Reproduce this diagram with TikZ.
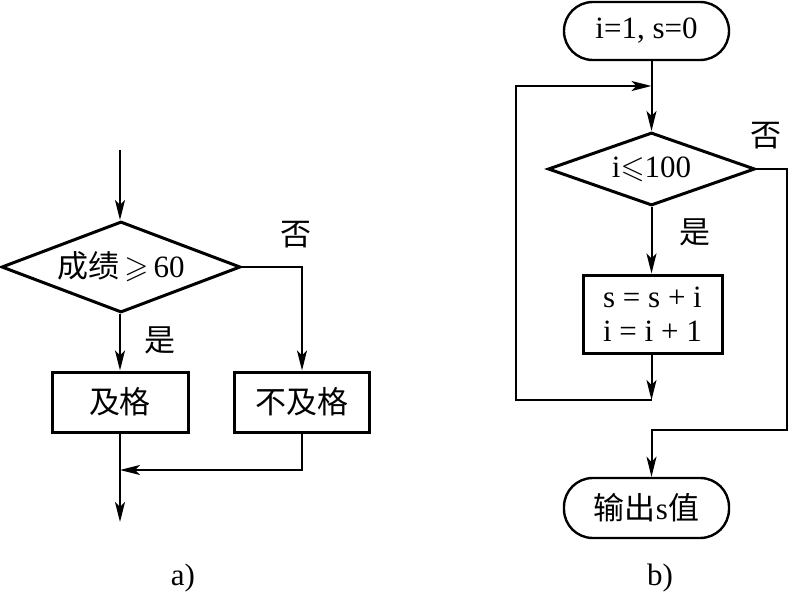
\documentclass[tikz,border=0pt]{standalone}
\usepackage{amssymb}
\usepackage{fontspec}
\setmainfont{Liberation Serif}
\newfontfamily\cjk{Noto Sans CJK SC}
\usetikzlibrary{arrows.meta,shapes.geometric}
\begin{document}
\begin{tikzpicture}[x=0.5pt,y=-0.5pt,
  every node/.style={font=\fontsize{15.5}{17}\selectfont},
  boxshape/.style={draw,line width=1.5pt,rectangle,inner sep=0pt},
  decision/.style={draw,line width=1.5pt,diamond,inner sep=0pt,shape aspect=2.6},
  terminal/.style={draw,line width=1.2pt,rectangle,rounded corners=14.4pt,inner sep=0pt,minimum width=82.5pt,minimum height=29pt},
  conn/.style={line width=1pt},
  arr/.style={conn,-{Stealth[length=10pt,width=5pt,inset=2.5pt]}},
  lbl/.style={inner sep=0pt}]
\useasboundingbox (0,0) rectangle (788,594);
% ---------- a) ----------
\coordinate (s1) at (120,150);
\node[decision,minimum width=119.5pt,minimum height=45.5pt] (d1) at (121,267) {{\cjk 成绩}\,$\geqslant$\,60};
\node[boxshape,minimum width=68pt,minimum height=30pt] (b1) at (120,402) {\cjk 及格};
\node[boxshape,minimum width=67.5pt,minimum height=30pt] (b2) at (302,402) {\cjk 不及格};
\coordinate (m1) at (120,470);
\coordinate (e1) at (120,522);
\node[lbl] (no1) at (296,235) {\cjk 否};
\node[lbl] (yes1) at (160,340) {\cjk 是};
\node[lbl] (ca) at (183,578) {a)};
\draw[arr] (s1) -- (s1 |- d1.north);
\draw[arr] (s1 |- d1.south) -- (b1.north);
\draw[arr] (d1.east) -| (b2.north);
\draw[arr] (b2.south) |- (m1);
\draw[arr] (b1.south) -- (e1);
% ---------- b) ----------
\node[terminal] (t1) at (646.5,31) {i=1, s=0};
\node[decision,minimum width=103.5pt,minimum height=36.5pt] (d2) at (651.5,169) {i$\leqslant$100};
\node[boxshape,minimum width=69.5pt,minimum height=39pt,align=center] (b3) at (652.5,314) {s = s + i\\i = i + 1};
\node[terminal,minimum height=30pt] (t2) at (646.5,508) {{\cjk 输出}s{\cjk 值}};
\coordinate (lb) at (651.5,400);
\coordinate (ll) at (516,400);
\coordinate (lt) at (516,86);
\coordinate (lj) at (651.5,86);
\coordinate (rc) at (787,169);
\coordinate (rb) at (787,430);
\coordinate (rj) at (651.5,430);
\node[lbl] (no2) at (766,136) {\cjk 否};
\node[lbl] (yes2) at (695,232) {\cjk 是};
\node[lbl] (cb) at (660,578) {b)};
\draw[arr] (d2.north |- t1.south) -- (d2.north);
\draw[arr] (d2.south) -- (d2.south |- b3.north);
\draw[arr] (b3.south -| lb) -- (lb);
\draw[arr] (lb) -- (ll) -- (lt) -- (lj);
\draw[arr] (d2.east) -- (rc) -- (rb) -- (rj) -- (rj |- t2.north);
\end{tikzpicture}
\end{document}
